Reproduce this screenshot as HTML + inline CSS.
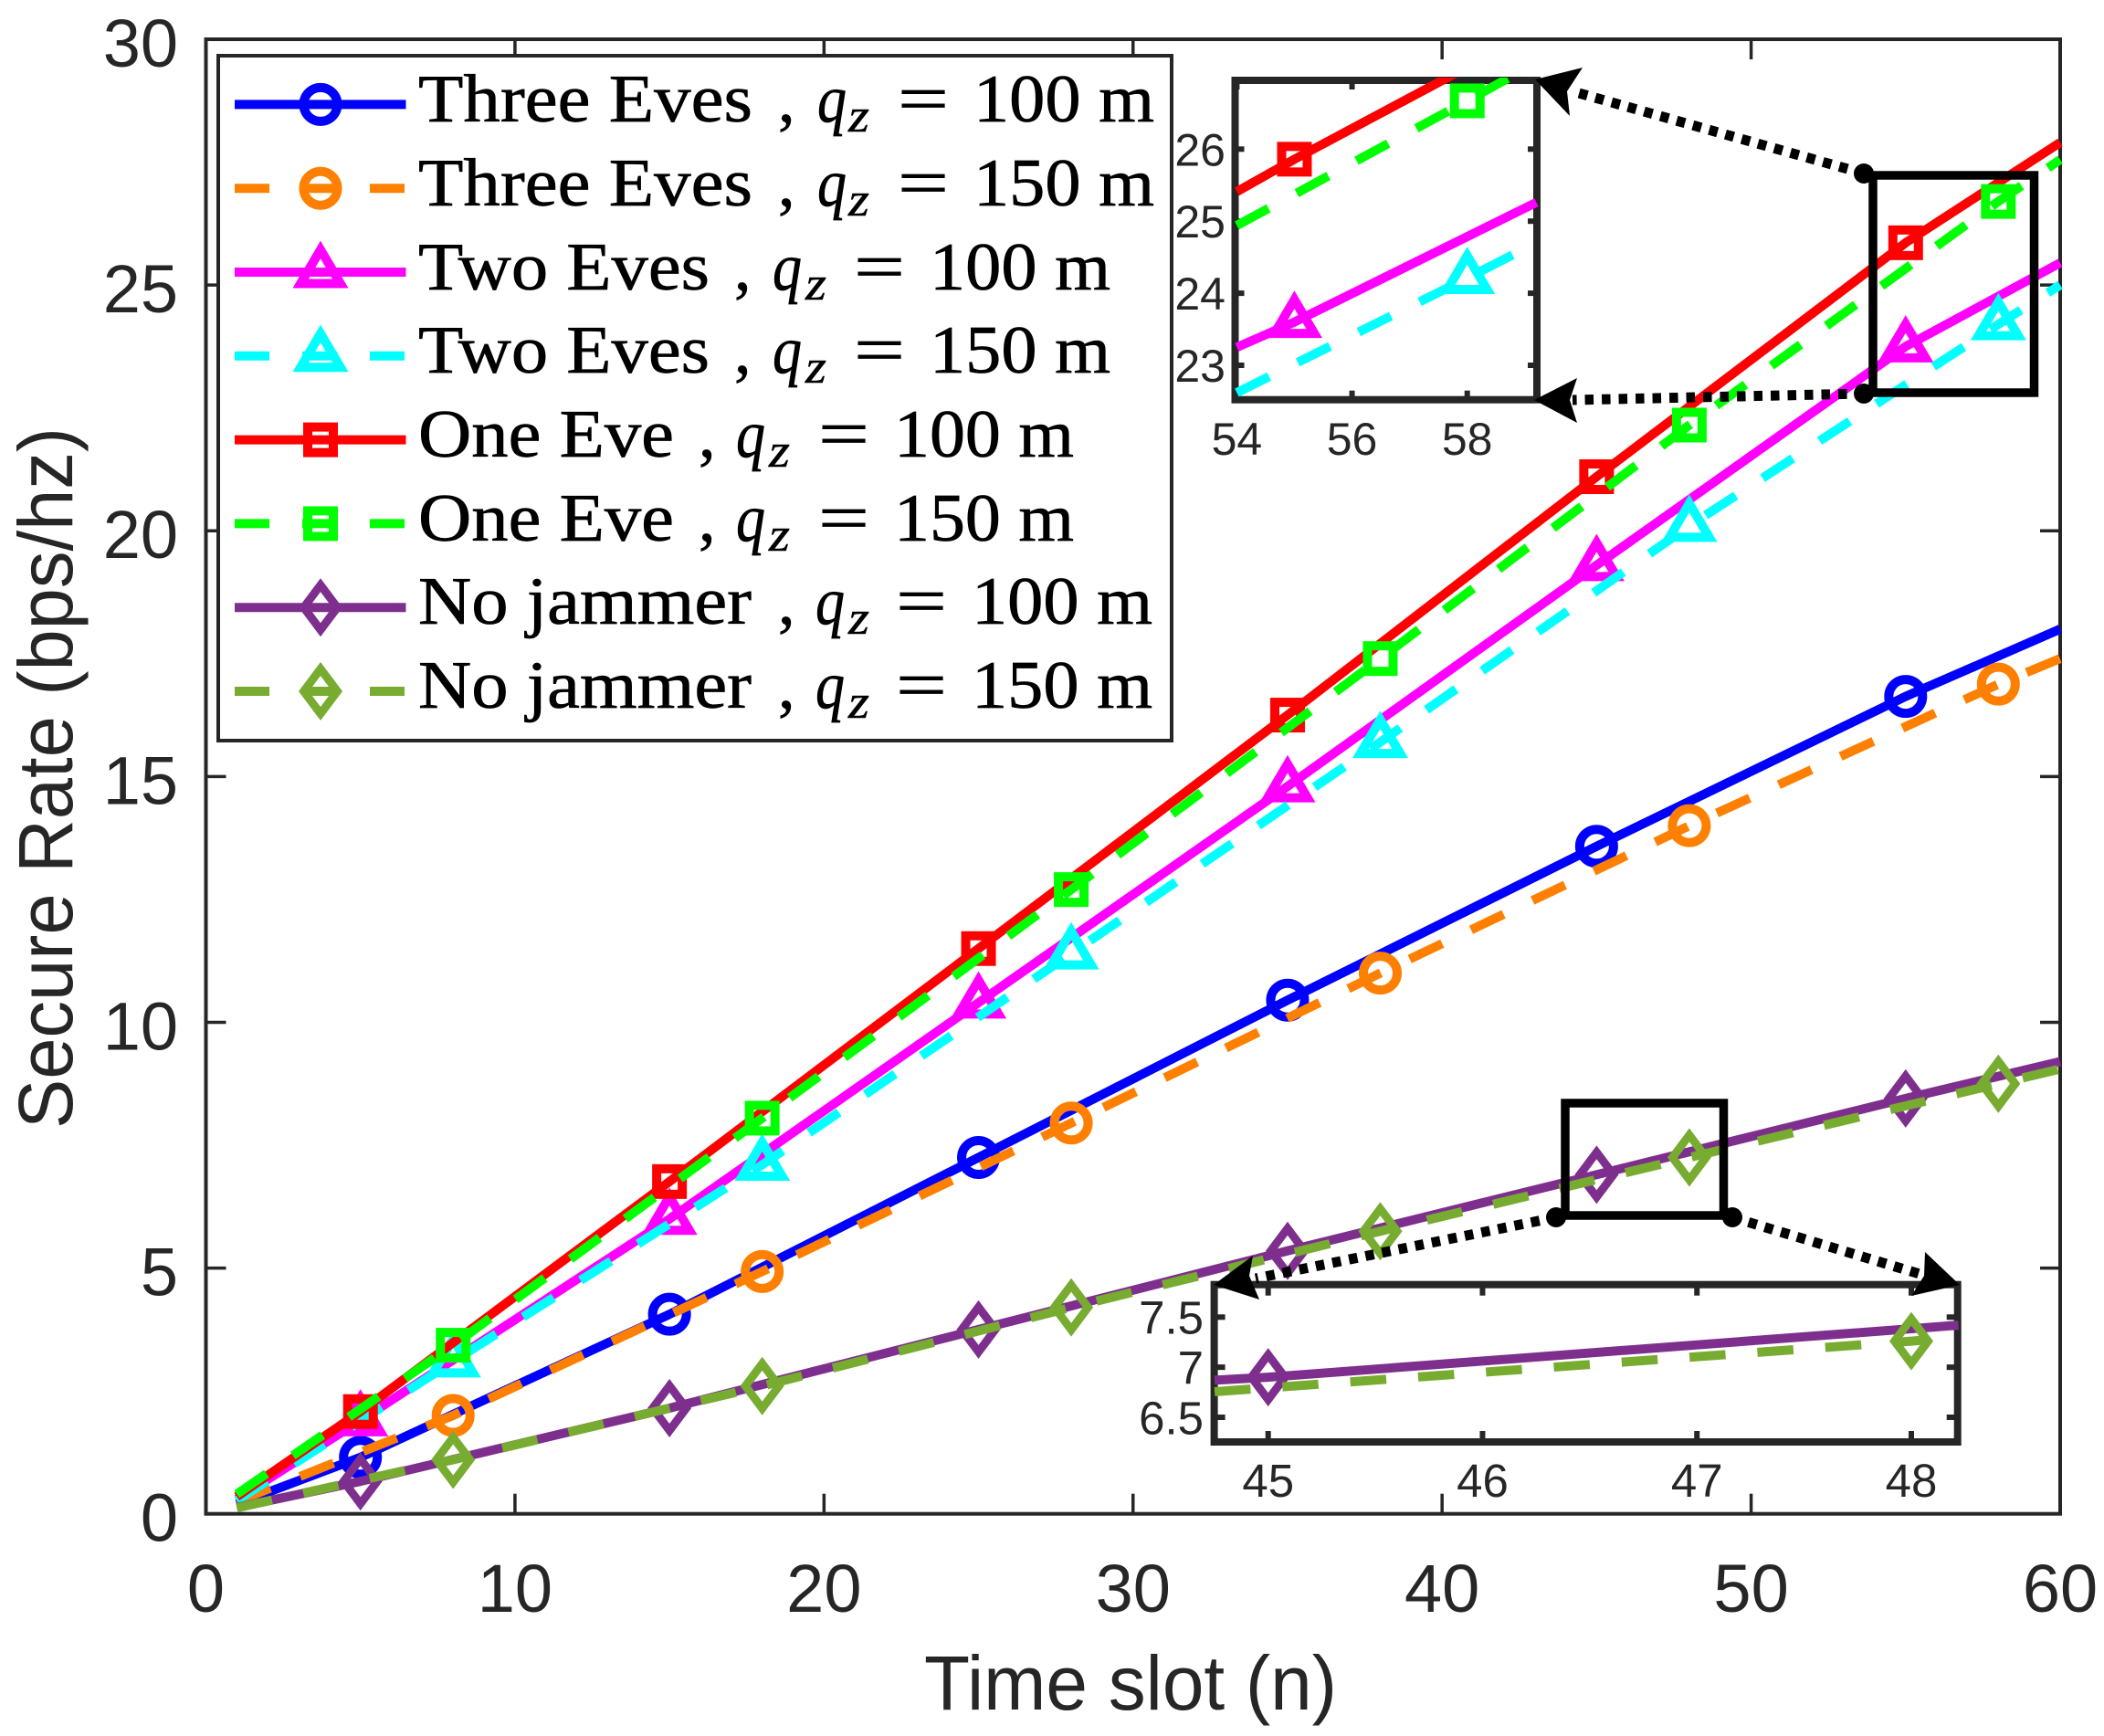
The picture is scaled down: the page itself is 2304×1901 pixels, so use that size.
<!DOCTYPE html>
<html lang="en">
<head>
<meta charset="utf-8">
<title>Secure Rate vs Time slot</title>
<style>
  html, body { margin: 0; padding: 0; background: #ffffff; }
  svg { display: block; }
  .tick { font-family: "Liberation Sans", sans-serif; fill: #262626; }
  .leg { font-family: "Liberation Serif", serif; font-size: 74px; fill: #000000; stroke: #000000; stroke-width: 0.7px; }
  .leg-i { font-family: "Liberation Serif", serif; font-style: italic; font-size: 74px; fill: #000000; stroke: #000000; stroke-width: 0.7px; }
  .leg-s { font-family: "Liberation Serif", serif; font-style: italic; font-size: 52px; fill: #000000; stroke: #000000; stroke-width: 0.5px; }
</style>
</head>
<body>
<svg id="chart" xmlns="http://www.w3.org/2000/svg" width="2304" height="1901" viewBox="0 0 2304 1901">
  <defs>
    <clipPath id="clip-inset-top"><rect x="1350" y="85" width="336" height="356"/></clipPath>
    <clipPath id="clip-inset-bottom"><rect x="1327" y="1404" width="819" height="178"/></clipPath>
  </defs>
  <rect x="0" y="0" width="2304" height="1901" fill="#ffffff"/>

  <g id="main-axes"></g>
  <g id="main-series"></g>

  <text class="tick" x="1012" y="1872" font-size="84" textLength="452" lengthAdjust="spacingAndGlyphs">Time slot (n)</text>
  <text class="tick" transform="translate(79 1236) rotate(-90)" x="0" y="0" font-size="84" textLength="768" lengthAdjust="spacingAndGlyphs">Secure Rate (bps/hz)</text>

  <g id="legend">
    <rect x="239" y="61" width="1044" height="750" fill="#ffffff" stroke="#262626" stroke-width="4"/>
    <g id="legend-keys"></g>

    <g>
      <text class="leg" x="458" y="133" textLength="366" lengthAdjust="spacingAndGlyphs">Three Eves</text>
      <text class="leg" x="852" y="133">,</text>
      <text class="leg-i" x="895" y="133" textLength="32" lengthAdjust="spacingAndGlyphs">q</text>
      <text class="leg-s" x="929" y="144" textLength="23" lengthAdjust="spacingAndGlyphs">z</text>
      <text class="leg" x="983" y="133" textLength="56" lengthAdjust="spacingAndGlyphs">=</text>
      <text class="leg" x="1066" y="133" textLength="198" lengthAdjust="spacingAndGlyphs">100 m</text>
    </g>
    <g>
      <text class="leg" x="458" y="225" textLength="366" lengthAdjust="spacingAndGlyphs">Three Eves</text>
      <text class="leg" x="852" y="225">,</text>
      <text class="leg-i" x="895" y="225" textLength="32" lengthAdjust="spacingAndGlyphs">q</text>
      <text class="leg-s" x="929" y="236" textLength="23" lengthAdjust="spacingAndGlyphs">z</text>
      <text class="leg" x="983" y="225" textLength="56" lengthAdjust="spacingAndGlyphs">=</text>
      <text class="leg" x="1066" y="225" textLength="198" lengthAdjust="spacingAndGlyphs">150 m</text>
    </g>
    <g>
      <text class="leg" x="458" y="317" textLength="319" lengthAdjust="spacingAndGlyphs">Two Eves</text>
      <text class="leg" x="804" y="317">,</text>
      <text class="leg-i" x="846" y="317" textLength="32" lengthAdjust="spacingAndGlyphs">q</text>
      <text class="leg-s" x="882" y="328" textLength="23" lengthAdjust="spacingAndGlyphs">z</text>
      <text class="leg" x="935" y="317" textLength="56" lengthAdjust="spacingAndGlyphs">=</text>
      <text class="leg" x="1018" y="317" textLength="198" lengthAdjust="spacingAndGlyphs">100 m</text>
    </g>
    <g>
      <text class="leg" x="458" y="408" textLength="319" lengthAdjust="spacingAndGlyphs">Two Eves</text>
      <text class="leg" x="804" y="408">,</text>
      <text class="leg-i" x="846" y="408" textLength="32" lengthAdjust="spacingAndGlyphs">q</text>
      <text class="leg-s" x="882" y="419" textLength="23" lengthAdjust="spacingAndGlyphs">z</text>
      <text class="leg" x="935" y="408" textLength="56" lengthAdjust="spacingAndGlyphs">=</text>
      <text class="leg" x="1018" y="408" textLength="198" lengthAdjust="spacingAndGlyphs">150 m</text>
    </g>
    <g>
      <text class="leg" x="458" y="500" textLength="280" lengthAdjust="spacingAndGlyphs">One Eve</text>
      <text class="leg" x="765" y="500">,</text>
      <text class="leg-i" x="806" y="500" textLength="32" lengthAdjust="spacingAndGlyphs">q</text>
      <text class="leg-s" x="842" y="511" textLength="23" lengthAdjust="spacingAndGlyphs">z</text>
      <text class="leg" x="896" y="500" textLength="56" lengthAdjust="spacingAndGlyphs">=</text>
      <text class="leg" x="979" y="500" textLength="197" lengthAdjust="spacingAndGlyphs">100 m</text>
    </g>
    <g>
      <text class="leg" x="458" y="592" textLength="280" lengthAdjust="spacingAndGlyphs">One Eve</text>
      <text class="leg" x="765" y="592">,</text>
      <text class="leg-i" x="806" y="592" textLength="32" lengthAdjust="spacingAndGlyphs">q</text>
      <text class="leg-s" x="842" y="603" textLength="23" lengthAdjust="spacingAndGlyphs">z</text>
      <text class="leg" x="896" y="592" textLength="56" lengthAdjust="spacingAndGlyphs">=</text>
      <text class="leg" x="979" y="592" textLength="197" lengthAdjust="spacingAndGlyphs">150 m</text>
    </g>
    <g>
      <text class="leg" x="458" y="683" textLength="365" lengthAdjust="spacingAndGlyphs">No jammer</text>
      <text class="leg" x="852" y="683">,</text>
      <text class="leg-i" x="893" y="683" textLength="32" lengthAdjust="spacingAndGlyphs">q</text>
      <text class="leg-s" x="929" y="694" textLength="23" lengthAdjust="spacingAndGlyphs">z</text>
      <text class="leg" x="981" y="683" textLength="56" lengthAdjust="spacingAndGlyphs">=</text>
      <text class="leg" x="1064" y="683" textLength="198" lengthAdjust="spacingAndGlyphs">100 m</text>
    </g>
    <g>
      <text class="leg" x="458" y="775" textLength="365" lengthAdjust="spacingAndGlyphs">No jammer</text>
      <text class="leg" x="852" y="775">,</text>
      <text class="leg-i" x="893" y="775" textLength="32" lengthAdjust="spacingAndGlyphs">q</text>
      <text class="leg-s" x="929" y="786" textLength="23" lengthAdjust="spacingAndGlyphs">z</text>
      <text class="leg" x="981" y="775" textLength="56" lengthAdjust="spacingAndGlyphs">=</text>
      <text class="leg" x="1064" y="775" textLength="198" lengthAdjust="spacingAndGlyphs">150 m</text>
    </g>
  </g>

  <g id="inset-top"></g>
  <g id="inset-bottom"></g>

  <g>
    <rect x="2051" y="192" width="176.5" height="238" fill="none" stroke="#000000" stroke-width="9.5"/>
    <rect x="1714" y="1208" width="173.5" height="123" fill="none" stroke="#000000" stroke-width="9.5"/>

    <g>
      <line x1="2041" y1="190" x2="1722" y2="100" stroke="#000000" stroke-width="11" stroke-dasharray="9.5 9"/>
      <circle cx="2041" cy="190" r="11" fill="#000000"/>
      <polygon points="1681,87 1733,74 1716,100 1719,127" fill="#000000"/>
    </g>
    <g>
      <line x1="2041" y1="431" x2="1722" y2="438" stroke="#000000" stroke-width="11" stroke-dasharray="9.5 9"/>
      <circle cx="2041" cy="431" r="11" fill="#000000"/>
      <polygon points="1680,438 1727,414 1719,438 1727,463" fill="#000000"/>
    </g>
    <g>
      <line x1="1704" y1="1333" x2="1375" y2="1400" stroke="#000000" stroke-width="11" stroke-dasharray="9.5 9"/>
      <circle cx="1704" cy="1333" r="11" fill="#000000"/>
      <polygon points="1329,1407 1372,1375 1368,1397 1379,1423" fill="#000000"/>
    </g>
    <g>
      <line x1="1897" y1="1333" x2="2102" y2="1395" stroke="#000000" stroke-width="11" stroke-dasharray="9.5 9"/>
      <circle cx="1897" cy="1333" r="11" fill="#000000"/>
      <polygon points="2146,1407 2108,1371 2107,1397 2093,1419" fill="#000000"/>
    </g>
  </g>
</svg>

<script>
// ---- main chart data ----
const slots100 = [1, 5, 15, 25, 35, 45, 55, 60];
const slots150 = [1, 8, 18, 28, 38, 48, 58, 60];
const threeEves100 = [0.2, 1.15, 4.06, 7.25, 10.45, 13.58, 16.63, 18.0];
const threeEves150 = [0.25, 2.0, 4.93, 7.95, 11.0, 14.0, 16.88, 17.4];
const twoEves100 = [0.3, 1.9, 6.0, 10.4, 14.8, 19.3, 23.75, 25.45];
const twoEves150 = [0.27, 3.1, 7.1, 11.4, 15.7, 20.1, 24.2, 25.0];
const oneEve100 = [0.35, 2.08, 6.76, 11.5, 16.25, 21.1, 25.86, 27.9];
const oneEve150 = [0.4, 3.43, 8.05, 12.7, 17.4, 22.15, 26.7, 27.55];
const noJammer100 = [0.13, 0.66, 2.15, 3.75, 5.35, 6.9, 8.45, 9.2];
const noJammer150 = [0.12, 1.1, 2.6, 4.2, 5.75, 7.25, 8.75, 9.05];
const xTicks = [0, 10, 20, 30, 40, 50, 60];
const yTicks = [0, 5, 10, 15, 20, 25, 30];

// ---- top inset data ----
const topInsetXTicks = [54, 56, 58];
const topInsetYTicks = [23, 24, 25, 26];
const topRedSlots = [54, 55, 59.2];
const topRedValues = [25.41, 25.86, 27.65];
const topGreenSlots = [54, 58, 59.2];
const topGreenValues = [24.94, 26.67, 27.2];
const topMagentaSlots = [54, 55, 59.2];
const topMagentaValues = [23.25, 23.6, 25.26];
const topCyanSlots = [54, 58, 59.2];
const topCyanValues = [22.62, 24.21, 24.7];

// ---- bottom inset data ----
const bottomInsetXTicks = [45, 46, 47, 48];
const bottomInsetYTicks = [6.5, 7, 7.5];
const bottomPurpleSlots = [44.75, 45, 48.22];
const bottomPurpleValues = [6.87, 6.9, 7.42];
const bottomOliveSlots = [44.75, 48, 48.22];
const bottomOliveValues = [6.755, 7.26, 7.3];

// ---- drawing helpers ----
const NS = 'http://www.w3.org/2000/svg';
const INK = '#262626';
function make(tag, attrs, parent) {
  const el = document.createElementNS(NS, tag);
  for (const k in attrs) el.setAttribute(k, attrs[k]);
  if (parent) parent.appendChild(el);
  return el;
}
function linearScale(d0, d1, r0, r1) {
  return function (v) { return r0 + (v - d0) * (r1 - r0) / (d1 - d0); };
}

const LINE_W = 10;
const DASH = '39.5 35';

function drawMarker(parent, kind, cx, cy, color) {
  const sw = kind === 'diamond' ? 9 : 10;
  const style = { fill: 'none', stroke: color, 'stroke-width': sw, 'stroke-miterlimit': 12 };
  let el;
  if (kind === 'circle') {
    el = make('circle', Object.assign({ cx: cx, cy: cy, r: 18.5 }, style), parent);
  } else if (kind === 'square') {
    el = make('rect', Object.assign({ x: cx - 14, y: cy - 14, width: 28, height: 28 }, style), parent);
  } else if (kind === 'triangle') {
    const pts = [[cx, cy - 24.5], [cx + 21.8, cy + 12.5], [cx - 21.8, cy + 12.5]];
    el = make('polygon', Object.assign({ points: pts.map(function (p) { return p.join(','); }).join(' ') }, style), parent);
  } else {
    const pts = [[cx, cy - 24.5], [cx + 18.4, cy], [cx, cy + 24.5], [cx - 18.4, cy]];
    el = make('polygon', Object.assign({ points: pts.map(function (p) { return p.join(','); }).join(' ') }, style), parent);
  }
  
  
  return el;
}

function drawLine(parent, xs, ys, sx, sy, color, dashed, name) {
  const pts = xs.map(function (x, i) { return sx(x).toFixed(2) + ',' + sy(ys[i]).toFixed(2); }).join(' ');
  const attrs = { points: pts, fill: 'none', stroke: color, 'stroke-width': LINE_W, 'stroke-linejoin': 'round' };
  if (dashed) attrs['stroke-dasharray'] = DASH;
  const el = make('polyline', attrs, parent);
  
  
  return el;
}

function drawLabel(parent, x, y, size, anchor, str, name) {
  const t = make('text', { x: x, y: y, 'font-size': size, 'text-anchor': anchor, 'class': 'tick' }, parent);
  t.textContent = str;
  
  
  return t;
}

function drawSegment(parent, x1, y1, x2, y2, w, name) {
  const l = make('line', { x1: x1, y1: y1, x2: x2, y2: y2, stroke: INK, 'stroke-width': w }, parent);
  
  
  return l;
}

// ---- main axes ----
const LEFT = 225.5, RIGHT = 2256, TOP = 43, BOTTOM = 1657.7;
const xMain = linearScale(0, 60, LEFT, RIGHT);
const yMain = linearScale(0, 30, BOTTOM, TOP);

const axesLayer = document.getElementById('main-axes');
const frame = make('rect', { x: LEFT, y: TOP, width: RIGHT - LEFT, height: BOTTOM - TOP, fill: 'none', stroke: INK, 'stroke-width': 4 }, axesLayer);



xTicks.forEach(function (t) {
  const x = xMain(t);
  drawSegment(axesLayer, x, BOTTOM, x, BOTTOM - 22, 3.5, 'x-tick-bottom');
  drawSegment(axesLayer, x, TOP, x, TOP + 22, 3.5, 'x-tick-top');
  drawLabel(axesLayer, x, 1765, 74, 'middle', String(t), 'x-tick-label');
});
yTicks.forEach(function (t) {
  const y = yMain(t);
  drawSegment(axesLayer, LEFT, y, LEFT + 22, y, 3.5, 'y-tick-left');
  drawSegment(axesLayer, RIGHT, y, RIGHT - 22, y, 3.5, 'y-tick-right');
  drawLabel(axesLayer, 195, y + 30, 74, 'end', String(t), 'y-tick-label');
});

// ---- main series ----
const seriesList = [
  { key: 'three-eves-100', xs: slots100, ys: threeEves100, color: '#0000ff', dashed: false, marker: 'circle' },
  { key: 'three-eves-150', xs: slots150, ys: threeEves150, color: '#ff8000', dashed: true, marker: 'circle' },
  { key: 'two-eves-100', xs: slots100, ys: twoEves100, color: '#ff00ff', dashed: false, marker: 'triangle' },
  { key: 'two-eves-150', xs: slots150, ys: twoEves150, color: '#00ffff', dashed: true, marker: 'triangle' },
  { key: 'one-eve-100', xs: slots100, ys: oneEve100, color: '#ff0000', dashed: false, marker: 'square' },
  { key: 'one-eve-150', xs: slots150, ys: oneEve150, color: '#00ff00', dashed: true, marker: 'square' },
  { key: 'no-jammer-100', xs: slots100, ys: noJammer100, color: '#7e2f8e', dashed: false, marker: 'diamond' },
  { key: 'no-jammer-150', xs: slots150, ys: noJammer150, color: '#77ac30', dashed: true, marker: 'diamond' }
];

const seriesLayer = document.getElementById('main-series');
seriesList.forEach(function (s) {
  const g = make('g', {}, seriesLayer);
  
  
  drawLine(g, s.xs, s.ys, xMain, yMain, s.color, s.dashed, 'line-' + s.key);
  s.xs.forEach(function (x, i) {
    if (i === 0 || i === s.xs.length - 1) return;
    drawMarker(g, s.marker, xMain(x), yMain(s.ys[i]), s.color);
  });
});

// ---- legend keys ----
const keysLayer = document.getElementById('legend-keys');
seriesList.forEach(function (s, i) {
  const y = 114.4 + i * 91.8;
  const g = make('g', {}, keysLayer);
  
  
  const attrs = { x1: 257, y1: y, x2: 444.5, y2: y, stroke: s.color, 'stroke-width': LINE_W };
  if (s.dashed) attrs['stroke-dasharray'] = '38 36';
  make('line', attrs, g);
  drawMarker(g, s.marker, 351, y, s.color);
});

// ---- inset builder ----
function buildInset(layer, box, clipId, xTickVals, yTickVals, sx, sy, opts) {
  const bg = make('rect', { x: box.l, y: box.t, width: box.r - box.l, height: box.b - box.t, fill: '#ffffff', stroke: INK, 'stroke-width': opts.border }, layer);
  
  
  xTickVals.forEach(function (t) {
    const x = sx(t);
    drawSegment(layer, x, box.b, x, box.b - opts.tick, 6, 'inset-x-tick-bottom');
    drawSegment(layer, x, box.t, x, box.t + opts.tick, 6, 'inset-x-tick-top');
    drawLabel(layer, x, opts.xBase, opts.font, 'middle', String(t), 'inset-x-tick-label');
  });
  yTickVals.forEach(function (t) {
    const y = sy(t);
    drawSegment(layer, box.l, y, box.l + opts.tick, y, 6, 'inset-y-tick-left');
    drawSegment(layer, box.r, y, box.r - opts.tick, y, 6, 'inset-y-tick-right');
    drawLabel(layer, opts.yRight, y + opts.font * 0.36, opts.font, 'end', String(t), 'inset-y-tick-label');
  });
  const plot = make('g', { 'clip-path': 'url(#' + clipId + ')' }, layer);
  
  
  return plot;
}

// ---- top inset ----
const topBox = { l: 1352.5, r: 1683, t: 88, b: 437.7 };
const xTop = linearScale(54, 58, 1354.4, 1606.7);
const yTop = linearScale(23, 26, 400, 163.3);
const topPlot = buildInset(document.getElementById('inset-top'), topBox, 'clip-inset-top', topInsetXTicks, topInsetYTicks, xTop, yTop,
  { border: 8, tick: 10, xBase: 498, font: 50, yRight: 1342 });
drawLine(topPlot, topMagentaSlots, topMagentaValues, xTop, yTop, '#ff00ff', false, 'inset-line-two-eves-100');
drawMarker(topPlot, 'triangle', xTop(topMagentaSlots[1]), yTop(topMagentaValues[1]), '#ff00ff');
drawLine(topPlot, topCyanSlots, topCyanValues, xTop, yTop, '#00ffff', true, 'inset-line-two-eves-150');
drawMarker(topPlot, 'triangle', xTop(topCyanSlots[1]), yTop(topCyanValues[1]), '#00ffff');
drawLine(topPlot, topRedSlots, topRedValues, xTop, yTop, '#ff0000', false, 'inset-line-one-eve-100');
drawMarker(topPlot, 'square', xTop(topRedSlots[1]), yTop(topRedValues[1]), '#ff0000');
drawLine(topPlot, topGreenSlots, topGreenValues, xTop, yTop, '#00ff00', true, 'inset-line-one-eve-150');
drawMarker(topPlot, 'square', xTop(topGreenSlots[1]), yTop(topGreenValues[1]), '#00ff00');

// ---- bottom inset ----
const bottomBox = { l: 1329.6, r: 2143.7, t: 1406.7, b: 1579 };
const xBottom = linearScale(45, 48, 1388.7, 2093);
const yBottom = linearScale(6.5, 7.5, 1552, 1442.3);
const bottomPlot = buildInset(document.getElementById('inset-bottom'), bottomBox, 'clip-inset-bottom', bottomInsetXTicks, bottomInsetYTicks, xBottom, yBottom,
  { border: 8, tick: 12, xBase: 1639, font: 51, yRight: 1318 });
drawLine(bottomPlot, bottomPurpleSlots, bottomPurpleValues, xBottom, yBottom, '#7e2f8e', false, 'inset-line-no-jammer-100');
drawMarker(bottomPlot, 'diamond', xBottom(bottomPurpleSlots[1]), yBottom(bottomPurpleValues[1]), '#7e2f8e');
drawLine(bottomPlot, bottomOliveSlots, bottomOliveValues, xBottom, yBottom, '#77ac30', true, 'inset-line-no-jammer-150');
drawMarker(bottomPlot, 'diamond', xBottom(bottomOliveSlots[1]), yBottom(bottomOliveValues[1]), '#77ac30');
</script>
</body>
</html>
